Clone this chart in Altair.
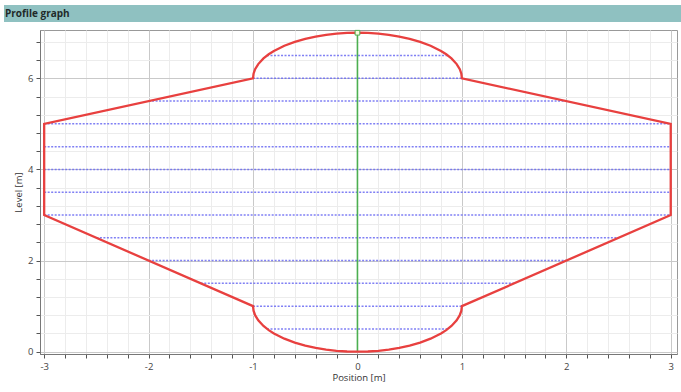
import altair as alt
import pandas as pd

# Profile outline (closed path)
profile_x = [0, -0.1, -0.2, -0.3, -0.4, -0.5, -0.6, -0.7, -0.8, -0.85, -0.9, -0.95, -0.98, -0.995, -1,
             -3, -3,
             -1, -0.995, -0.98, -0.95, -0.9, -0.85, -0.8, -0.7, -0.6, -0.5, -0.4, -0.3, -0.2, -0.1, 0,
             0.1, 0.2, 0.3, 0.4, 0.5, 0.6, 0.7, 0.8, 0.85, 0.9, 0.95, 0.98, 0.995, 1,
             3, 3,
             1, 0.995, 0.98, 0.95, 0.9, 0.85, 0.8, 0.7, 0.6, 0.5, 0.4, 0.3, 0.2, 0.1, 0]
profile_y = [7, 6.995, 6.98, 6.954, 6.917, 6.866, 6.8, 6.714, 6.6, 6.527, 6.436, 6.312, 6.199, 6.1, 6,
             5, 3,
             1, 0.9, 0.801, 0.688, 0.564, 0.473, 0.4, 0.286, 0.2, 0.134, 0.083, 0.046, 0.02, 0.005, 0,
             0.005, 0.02, 0.046, 0.083, 0.134, 0.2, 0.286, 0.4, 0.473, 0.564, 0.688, 0.801, 0.9, 1,
             3, 5,
             6, 6.1, 6.199, 6.312, 6.436, 6.527, 6.6, 6.714, 6.8, 6.866, 6.917, 6.954, 6.98, 6.995, 7]

# Horizontal (blue dashed) levels and their half widths
levels = [0.5, 1.0, 1.5, 2.0, 2.5, 3.0, 3.5, 4.0, 4.5, 5.0, 5.5, 6.0, 6.5]
half_widths = [0.866, 1, 1.5, 2, 2.5, 3, 3, 3, 3, 3, 2, 1, 0.866]

# Centre line
center_x = [0, 0]
center_y = [0, 7]
marker_x = [0]
marker_y = [7]

x_major = [-3, -2, -1, 0, 1, 2, 3]
y_major = [0, 2, 4, 6]
x_ticks = [round(-3 + 0.2 * i, 2) for i in range(31)]
y_ticks = [round(0.4 * i, 2) for i in range(18)]

FONT = "Open Sans"

prof = pd.DataFrame({"x": profile_x, "y": profile_y, "i": list(range(len(profile_x)))})
lev = pd.DataFrame({"y": levels, "x1": [-w for w in half_widths], "x2": half_widths})
cen = pd.DataFrame({"x": center_x, "y": center_y})
mk = pd.DataFrame({"x": marker_x, "y": marker_y})
one = pd.DataFrame({"t": ["Profile graph"]})

xscale = alt.Scale(domain=[-3.04, 3.06], nice=False, zero=False)
yscale = alt.Scale(domain=[-0.05, 7.06], nice=False, zero=False)

x_major_test = "abs(datum.value - round(datum.value)) < 0.001"
y_major_test = "abs(datum.value/2 - round(datum.value/2)) < 0.001"

x_axis = alt.Axis(
    title="Position [m]", values=x_ticks, tickCount=200,
    labelExpr=f"{x_major_test} ? '' + round(datum.value) : ''",
    grid=True,
    gridColor={"condition": {"test": x_major_test, "value": "#c9c9c9"}, "value": "#ececec"},
    tickColor="#555", domainColor="#777", tickSize=4, labelPadding=3,
    labelColor="#444", labelFont=FONT, labelFontSize=9.5, titleFont=FONT, titleFontSize=9.5,
    titleFontWeight="normal", titleColor="#333", titlePadding=2, labelFlush=False, labelOverlap=False,
)
y_axis = alt.Axis(
    title="Level [m]", values=y_ticks, tickCount=200,
    labelExpr=f"{y_major_test} ? '' + round(datum.value) : ''",
    grid=True,
    gridColor={"condition": {"test": y_major_test, "value": "#c9c9c9"}, "value": "#ececec"},
    tickColor="#555", domainColor="#777", tickSize=4, labelPadding=3,
    labelColor="#444", labelFont=FONT, labelFontSize=9.5, titleFont=FONT, titleFontSize=9.5,
    titleFontWeight="normal", titleColor="#333", titlePadding=4, labelFlush=False, labelOverlap=False,
)

base_axes = alt.Chart(cen).mark_point(opacity=0).encode(
    x=alt.X("x:Q", scale=xscale, axis=x_axis),
    y=alt.Y("y:Q", scale=yscale, axis=y_axis),
)

dashes = alt.Chart(lev).mark_rule(color="#6a6af2", strokeWidth=1.5, strokeDash=[2, 1.5], opacity=0.85).encode(
    x="x1:Q", x2="x2:Q", y="y:Q"
)

green = alt.Chart(cen).mark_line(color="#4caf50", strokeWidth=1.6).encode(x="x:Q", y="y:Q")

outline = alt.Chart(prof).mark_line(color="#e8403f", strokeWidth=2.3).encode(
    x="x:Q", y="y:Q", order="i:Q"
)

marker = alt.Chart(mk).mark_square(size=22, fill="#fafae0", stroke="#4caf50", strokeWidth=1, opacity=1).encode(
    x="x:Q", y="y:Q"
)

bar = alt.Chart(one).mark_rect(color="#8fc1c1").encode(
    x=alt.value(-36), x2=alt.value(641), y=alt.value(-25), y2=alt.value(-8)
)
bar_text = alt.Chart(one).mark_text(align="left", baseline="middle", font=FONT, fontSize=10,
                                     fontWeight="bold", color="#1f2a2a").encode(
    x=alt.value(-35), y=alt.value(-16.5), text="t:N"
)

chart = alt.layer(base_axes, dashes, green, outline, marker, bar, bar_text).properties(
    width=637, height=324,
    autosize=alt.AutoSizeParams(type="none"),
    padding={"left": 40, "top": 30, "right": 4, "bottom": 38},
    background="white",
).configure_view(stroke="#999", strokeWidth=1)

chart.save("out.html", embed_options={"renderer": "svg", "actions": False})
